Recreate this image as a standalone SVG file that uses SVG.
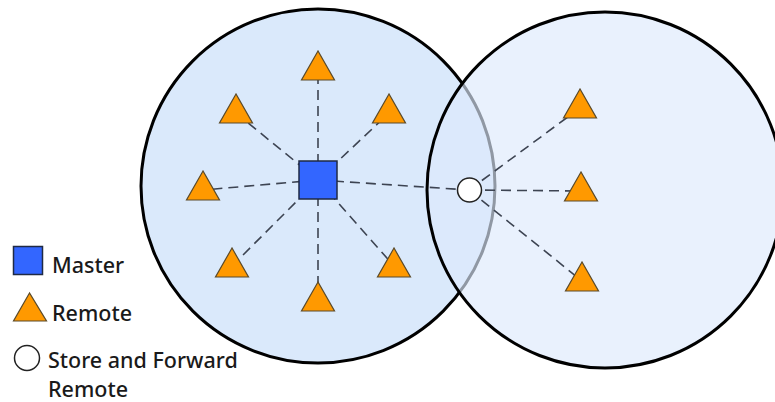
<svg xmlns="http://www.w3.org/2000/svg" width="775" height="402" viewBox="0 0 775 402">
  <defs>
    <style>
      .cell-a { fill: #dae9fb; stroke: #000; stroke-width: 3; }
      .cell-b { fill: rgb(221,234,252); fill-opacity: 0.65; }
      .cell-b-edge { fill: none; stroke: #000; stroke-width: 3; }
      .link { stroke: #3d4452; stroke-width: 1.6; stroke-dasharray: 10 6; fill: none; }
      .master { fill: #3366ff; stroke: #1f2a44; stroke-width: 1.5; }
      .remote { fill: #ff9900; stroke: #5a4a2a; stroke-width: 1.2; stroke-linejoin: miter; }
      .sf { fill: #ffffff; stroke: #222; stroke-width: 1.5; }
      .label { font-family: "Noto Sans", "DejaVu Sans", sans-serif; font-size: 21.5px; font-weight: 500; fill: #1a1a1a; }
    </style>
  </defs>

  <rect width="775" height="402" fill="#ffffff"/>

  <!-- coverage areas -->
  <g id="cell-master">
    <circle class="cell-a" cx="318" cy="186" r="177"/>
  </g>
  <g id="cell-relay">
    <circle class="cell-b" cx="605" cy="190" r="178"/>
    <circle class="cell-b-edge" cx="605" cy="190" r="178"/>
  </g>

  <!-- radio links -->
  <g id="links">
    <line class="link" x1="318" y1="180" x2="318" y2="70"/>
    <line class="link" x1="318" y1="180" x2="236" y2="113"/>
    <line class="link" x1="318" y1="180" x2="389" y2="113"/>
    <line class="link" x1="318" y1="180" x2="203" y2="190"/>
    <line class="link" x1="318" y1="180" x2="232" y2="266"/>
    <line class="link" x1="318" y1="180" x2="318" y2="300"/>
    <line class="link" x1="318" y1="180" x2="394" y2="266"/>
    <line class="link" x1="318" y1="180" x2="469" y2="190"/>
    <line class="link" x1="469" y1="190" x2="580" y2="108"/>
    <line class="link" x1="469" y1="190" x2="581" y2="191"/>
    <line class="link" x1="469" y1="190" x2="582" y2="281"/>
  </g>

  <!-- master station -->
  <g id="master">
    <rect class="master" x="299" y="161" width="38" height="38"/>
  </g>

  <!-- remotes -->
  <g id="remote-n"><polygon class="remote" points="318,51 301.5,80 334.5,80"/></g>
  <g id="remote-nw"><polygon class="remote" points="236,94 219.5,123 252.5,123"/></g>
  <g id="remote-ne"><polygon class="remote" points="389,94 372.5,123 405.5,123"/></g>
  <g id="remote-w"><polygon class="remote" points="203,171 186.5,200 219.5,200"/></g>
  <g id="remote-sw"><polygon class="remote" points="232,248 215.5,277 248.5,277"/></g>
  <g id="remote-s"><polygon class="remote" points="318,282 301.5,311 334.5,311"/></g>
  <g id="remote-se"><polygon class="remote" points="394,248 377.5,277 410.5,277"/></g>
  <g id="remote-r1"><polygon class="remote" points="580,89 563.5,118 596.5,118"/></g>
  <g id="remote-r2"><polygon class="remote" points="581,172 564.5,201 597.5,201"/></g>
  <g id="remote-r3"><polygon class="remote" points="582,262 565.5,291 598.5,291"/></g>

  <!-- store and forward remote -->
  <g id="store-forward">
    <circle class="sf" cx="469.5" cy="190" r="12"/>
  </g>

  <!-- legend -->
  <g id="legend">
    <rect class="master" x="13.5" y="246.5" width="29" height="28"/>
    <text class="label" x="52" y="273">Master</text>
    <polygon class="remote" points="29.5,293 13.5,321 46.5,321"/>
    <text class="label" x="52" y="321">Remote</text>
    <circle class="sf" cx="27" cy="358" r="12.5"/>
    <text class="label" x="48" y="368">Store and Forward</text>
    <text class="label" x="48" y="397">Remote</text>
  </g>
</svg>
